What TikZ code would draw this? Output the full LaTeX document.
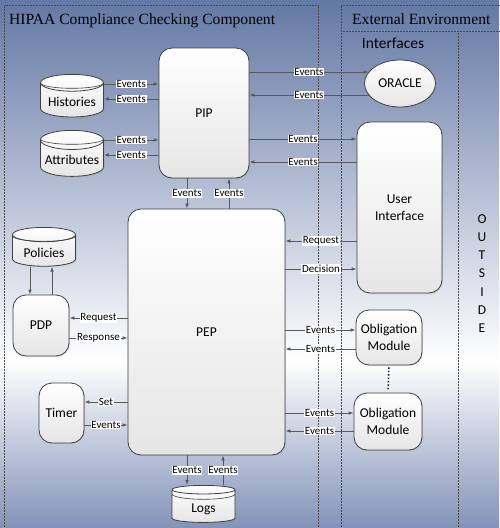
\documentclass[tikz,border=0pt]{standalone}
\usepackage{fontspec}
\setmainfont{Carlito}
\newfontfamily\titlefont{Liberation Serif}
\usepackage{tikz}
\usetikzlibrary{positioning,arrows.meta,shapes.geometric,shadows}
\definecolor{hcLine}{HTML}{595959}
\definecolor{hcEdge}{HTML}{404040}
\definecolor{hcFrame}{HTML}{4A4A4A}
\definecolor{hcTop}{HTML}{6478A5}
\definecolor{hcBottom}{HTML}{8292B8}

\begin{document}
\begin{tikzpicture}[
  x=1pt, y=-1pt,
  every node/.style={font=\fontsize{13.5}{16.5}\selectfont},
  module/.style={rectangle, rounded corners=13pt, draw=hcEdge, line width=0.8pt,
                 top color=white, bottom color=black!10, align=center, inner sep=0pt,
                 drop shadow={opacity=0.2, shadow xshift=1pt, shadow yshift=-1pt}},
  store/.style={cylinder, shape border rotate=90, aspect=0.35, draw=hcEdge, line width=0.8pt,
                top color=white, bottom color=black!10, minimum width=63pt, minimum height=37pt,
                anchor=north, inner sep=0pt, text height=15pt, text depth=2pt,
                drop shadow={opacity=0.2, shadow xshift=1pt, shadow yshift=-1pt},
                path picture={\draw[hcEdge, line width=0.6pt]
                  ([yshift=-8.5pt]path picture bounding box.north west)
                  arc[start angle=180, end angle=360, x radius=31.5pt, y radius=5.4pt];}},
  lbl/.style={fill=white, inner sep=0.8pt, font=\fontsize{11}{12}\selectfont},
  frame/.style={draw=hcFrame, densely dotted, line width=0.5pt},
  heading/.style={inner sep=0pt, font=\titlefont\fontsize{15.6}{18}\selectfont},
  flow/.style={draw=hcLine, line width=0.8pt, ->},
  >={Latex[length=5pt,width=3.6pt]}
]
  \useasboundingbox (0,0) rectangle (499,528);
  \shade[top color=hcTop, bottom color=white] (0,0) rectangle (499,362);
  \shade[top color=white, bottom color=hcBottom] (0,361) rectangle (499,528);

  \draw[frame] (4.5,5.5) rectangle (318,530);
  \draw[frame] (341,5.5) rectangle (501,530);
  \draw[frame] (341,31) -- (501,31);
  \draw[frame] (458,31) -- (458,530);

  \node[heading, anchor=base west] (title) at (9,24) {HIPAA Compliance Checking Component};
  \node[heading, anchor=base west] (extenv) at (352,24) {External Environment};
  \node[inner sep=0pt, anchor=base, font=\fontsize{15.5}{18}\selectfont] (intf) at (393,48) {Interfaces};
  \node[align=center, font=\fontsize{13.5}{18.2}\selectfont] (outside) at (482,273.5) {O\\U\\T\\S\\I\\D\\E};

  \node[module, minimum width=90pt, minimum height=130pt] (pip) at (204,113) {PIP};
  \node[module, minimum width=157pt, minimum height=246pt] (pep) at (206.5,332) {PEP};
  \node[module, minimum width=85pt, minimum height=171pt] (ui) at (399.5,207.5) {User\\Interface};
  \node[module, minimum width=56pt, minimum height=61pt] (pdp) at (41,325.5) {PDP};
  \node[module, minimum width=45pt, minimum height=60pt] (timer) at (61.5,413) {Timer};
  \node[module, minimum width=66pt, minimum height=55pt] (om1) at (389,337.5) {Obligation\\Module};
  \node[module, minimum width=68pt, minimum height=57pt] (om2) at (388,421.5) {Obligation\\Module};
  \node[ellipse, draw=hcEdge, line width=0.8pt, top color=white, bottom color=black!10,
        minimum width=71pt, minimum height=47pt, inner sep=0pt,
        drop shadow={opacity=0.2, shadow xshift=1pt, shadow yshift=-1pt}] (oracle) at (400,83.5) {ORACLE};

  \node[store] (hist) at (72,74) {Histories};
  \node[store] (attr) at (72,130) {Attributes};
  \node[store] (pol) at (44,227) {Policies};
  \node[store] (logs) at (203.5,485) {Logs};

  \draw[flow] (hist.east |- 0,84) -- node[lbl]{Events} (pip.west |- 0,84);
  \draw[flow] (pip.west |- 0,99) -- node[lbl]{Events} (hist.east |- 0,99);
  \draw[flow] (attr.east |- 0,140) -- node[lbl]{Events} (pip.west |- 0,140);
  \draw[flow] (pip.west |- 0,155) -- node[lbl]{Events} (attr.east |- 0,155);

  \draw[flow] (pip.east |- oracle.160) -- node[lbl]{Events} (oracle.160);
  \draw[flow] (oracle.200) -- node[lbl]{Events} (pip.east |- oracle.200);
  \draw[flow] (pip.east |- 0,139) -- node[lbl]{Events} (ui.west |- 0,139);
  \draw[flow] (ui.west |- 0,162) -- node[lbl]{Events} (pip.east |- 0,162);

  \draw[flow] (pip.south -| 187,0) -- node[lbl]{Events} (pep.north -| 187,0);
  \draw[flow] (pep.north -| 229,0) -- node[lbl]{Events} (pip.south -| 229,0);

  \draw[flow] (pol.south -| 30,0) -- (pdp.north -| 30,0);
  \draw[flow] (pdp.north -| 52,0) -- (pol.south -| 52,0);
  \draw[flow] (pep.west |- 0,318) -- node[lbl]{Request} (pdp.east |- 0,318);
  \draw[flow] (pdp.east |- 0,338) -- node[lbl]{Response} (pep.west |- 0,338);

  \draw[flow] (ui.west |- 0,241) -- node[lbl]{Request} (pep.east |- 0,241);
  \draw[flow] (pep.east |- 0,269) -- node[lbl]{Decision} (ui.west |- 0,269);

  \draw[flow] (pep.east |- 0,330) -- node[lbl]{Events} (om1.west |- 0,330);
  \draw[flow] (om1.west |- 0,349) -- node[lbl]{Events} (pep.east |- 0,349);
  \draw[flow] (pep.east |- 0,413) -- node[lbl]{Events} (om2.west |- 0,413);
  \draw[flow] (om2.west |- 0,431) -- node[lbl]{Events} (pep.east |- 0,431);
  \draw[line width=1.4pt, dotted, shorten <=2pt, shorten >=3pt] (om1.south) -- (om2.north);

  \draw[flow] (pep.west |- 0,402) -- node[lbl]{Set} (timer.east |- 0,402);
  \draw[flow] (timer.east |- 0,425) -- node[lbl]{Events} (pep.west |- 0,425);

  \draw[flow] (pep.south -| 187,0) -- node[lbl]{Events} (logs.north -| 187,0);
  \draw[flow] (logs.north -| 223,0) -- node[lbl]{Events} (pep.south -| 223,0);
\end{tikzpicture}
\end{document}
